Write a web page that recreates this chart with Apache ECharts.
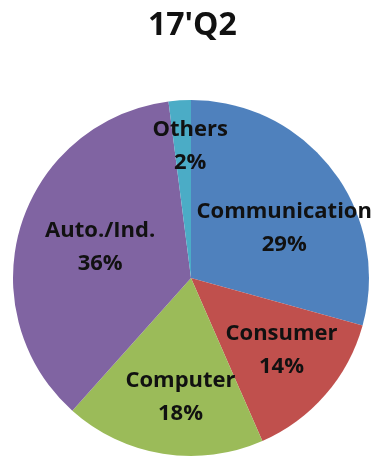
<!DOCTYPE html>
<html>
<head>
<meta charset="utf-8">
<script src="https://cdn.jsdelivr.net/npm/echarts@6/dist/echarts.min.js"></script>
<style>
  html, body { margin: 0; padding: 0; background: #fff; }
  #chart { width: 378px; height: 459px; }
</style>
</head>
<body>
<div id="chart"></div>
<script>
// Revenue mix by application, 17'Q2 (percent)
const title = "17'Q2";
const categories = ['Communication', 'Consumer', 'Computer', 'Auto./Ind.', 'Others'];
const shares = [29, 14, 18, 36, 2];
const colors = ['#4F81BD', '#C0504D', '#9BBB59', '#8064A2', '#4BACC6'];

// nudges from the default inside-label spot, per slice
const labelShift = [[20, 6], [21, 12], [4, 28], [-3, -3], [5, -40]];

const chart = echarts.init(document.getElementById('chart'), null, { renderer: 'canvas' });
chart.setOption({
  animation: false,
  title: {
    text: title,
    left: 143,
    top: 5,
    textStyle: { fontFamily: 'Open Sans', fontWeight: 'bold', fontSize: 32, color: '#111' }
  },
  series: [{
    type: 'pie',
    center: [191, 278],
    radius: 178,
    startAngle: 90,
    clockwise: true,
    data: categories.map((name, i) => ({
      name,
      value: shares[i],
      itemStyle: { color: colors[i] }
    })),
    label: {
      show: true,
      position: 'inside',
      formatter: p => p.name + '\n' + p.value + '%',
      fontFamily: 'Open Sans',
      fontWeight: 'bold',
      fontSize: 22,
      lineHeight: 33,
      color: '#111'
    },
    labelLine: { show: false },
    labelLayout: p => ({ dx: labelShift[p.dataIndex][0], dy: labelShift[p.dataIndex][1] }),
    emphasis: { disabled: true }
  }]
});
</script>
</body>
</html>
